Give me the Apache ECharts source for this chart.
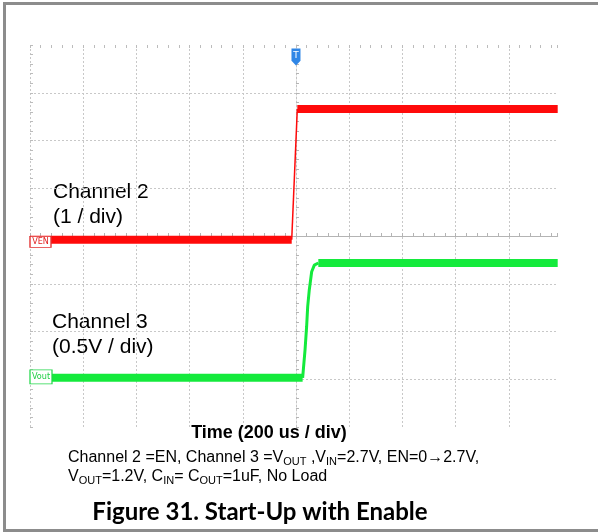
<!DOCTYPE html>
<html>
<head>
<meta charset="utf-8">
<script src="https://cdn.jsdelivr.net/npm/echarts@6/dist/echarts.min.js"></script>
<style>
  html, body { margin: 0; padding: 0; background: #fff; }
  #scope { width: 598px; height: 532px; }
</style>
</head>
<body>
<div id="scope"></div>
<script>
// x in time divisions (200 us / div), 0 = trigger; y in screen divisions
const xMin = -5, xMax = 4.92;
const yMin = -4, yMax = 4;

// Channel 2 (EN), 1 / div
const enLow = [[-5, -0.08], [-0.08, -0.08]];
const enEdge = [[-0.08, -0.08], [0.025, 2.66]];
const enHigh = [[0.025, 2.66], [4.92, 2.66]];

// Channel 3 (Vout), 0.5 V / div
const voutLow = [[-5, -2.97], [0.125, -2.97]];
const voutEdge = [[0.125, -2.97], [0.17, -2.39], [0.2, -1.9], [0.22, -1.48], [0.25, -1.13], [0.295, -0.75], [0.345, -0.61], [0.42, -0.565]];
const voutHigh = [[0.42, -0.565], [4.92, -0.565]];

const red = "#ff0a0a";
const green = "#14ea3c";
const gridGray = "#c8c8c8";

let chartDom = document.getElementById("scope");
let chart = echarts.init(chartDom, null, { renderer: "canvas" });

function trace(data, color, width, extra) {
  return Object.assign({
    type: "line",
    data: data,
    showSymbol: false,
    silent: true,
    lineStyle: { color: color, width: width },
    itemStyle: { color: color },
  }, extra || {});
}

let option = {
  animation: false,
  grid: { left: 30, top: 45, right: 40.3, bottom: 105 },
  xAxis: [
    {
      type: "value",
      min: xMin,
      max: xMax,
      interval: 1,
      axisLine: { show: true, onZero: true, lineStyle: { color: "#b4b4b4", width: 1 } },
      axisTick: { show: true, inside: true, length: 3, lineStyle: { color: "#b4b4b4" } },
      minorTick: { show: true, splitNumber: 5, length: 3, lineStyle: { color: "#b4b4b4" } },
      axisLabel: { show: false },
      splitLine: { show: true, showMaxLine: false, lineStyle: { color: gridGray, type: [2, 2] } },
    },
    {
      type: "value",
      position: "top",
      min: xMin,
      max: xMax,
      interval: 1,
      axisLine: { show: false, onZero: false },
      axisTick: { show: true, inside: true, length: 3, lineStyle: { color: "#bcbcbc" } },
      minorTick: { show: true, splitNumber: 5, length: 3, lineStyle: { color: "#bcbcbc" } },
      axisLabel: { show: false },
      splitLine: { show: false },
    },
  ],
  yAxis: [
    {
      type: "value",
      min: yMin,
      max: yMax,
      interval: 1,
      axisLine: { show: true, onZero: true, lineStyle: { color: "#c4c4c4", width: 1, type: [2, 2] } },
      axisTick: { show: true, inside: true, length: 3, lineStyle: { color: "#b4b4b4" } },
      minorTick: { show: true, splitNumber: 5, length: 3, lineStyle: { color: "#b4b4b4" } },
      axisLabel: { show: false },
      splitLine: { show: true, showMinLine: false, showMaxLine: false, lineStyle: { color: gridGray, type: [2, 2] } },
    },
    {
      type: "value",
      position: "left",
      min: yMin,
      max: yMax,
      interval: 1,
      axisLine: { show: false, onZero: false },
      axisTick: { show: true, inside: true, length: 3, lineStyle: { color: "#bcbcbc" } },
      minorTick: { show: true, splitNumber: 5, length: 3, lineStyle: { color: "#bcbcbc" } },
      axisLabel: { show: false },
      splitLine: { show: false },
    },
  ],
  series: [
    trace(enLow, red, 8, {
      markPoint: {
        silent: true,
        data: [{
          coord: enLow[0],
          symbol: "rect",
          symbolSize: [21, 11],
          symbolOffset: [10.5, 2],
          itemStyle: { color: "#fff", borderColor: "#e23030", borderWidth: 1 },
          label: {
            show: true, position: "inside", formatter: "VEN",
            color: "#e02020", fontSize: 9, fontFamily: "DejaVu Sans Condensed",
          },
        }],
      },
    }),
    trace(enEdge, red, 1.5),
    trace(enHigh, red, 8, {
      markPoint: {
        silent: true,
        data: [{
          coord: [0, yMax],
          symbol: "path://M0,0H10V13L5,18L0,13Z",
          symbolSize: [9, 17],
          symbolKeepAspect: false,
          symbolOffset: [0, 12],
          itemStyle: { color: "#2f86e6" },
          label: {
            show: true, position: "inside", formatter: "T",
            color: "#fff", fontSize: 9, offset: [0, -1], fontFamily: "DejaVu Sans",
          },
        }],
      },
    }),
    trace(voutLow, green, 8, {
      markPoint: {
        silent: true,
        data: [{
          coord: voutLow[0],
          symbol: "rect",
          symbolSize: [22, 14],
          symbolOffset: [11, -1],
          itemStyle: { color: "#fff", borderColor: "#22d84a", borderWidth: 1 },
          label: {
            show: true, position: "inside", formatter: "Vout",
            color: "#1fcf45", fontSize: 9, fontFamily: "DejaVu Sans Condensed",
          },
        }],
      },
    }),
    trace(voutEdge, green, 3),
    trace(voutHigh, green, 8),
  ],
  title: [
    {
      left: 63,
      top: 443,
      text: "Channel 2 =EN, Channel 3 =V{s|OUT} ,V{s|IN}=2.7V, EN=0\u21922.7V,\nV{s|OUT}=1.2V, C{s|IN}= C{s|OUT}=1uF, No Load",
      textStyle: {
        fontFamily: "Liberation Sans",
        fontWeight: "normal",
        fontSize: 16,
        color: "#000",
        lineHeight: 19,
        rich: {
          s: { fontSize: 11, fontFamily: "Liberation Sans", color: "#000", verticalAlign: "bottom", lineHeight: 19, padding: [5, 0, 0, 0] },
        },
      },
    },
  ],
  graphic: [
    {
      type: "rect",
      shape: { x: 4.5, y: 3.5, width: 600, height: 527 },
      style: { fill: "none", stroke: "#8c8c8c", lineWidth: 3 },
      silent: true,
    },
    {
      type: "text", x: 53, y: 204.5,
      style: { text: "Channel 2\n(1 / div)", font: "21px 'Liberation Sans'", fill: "#000", textVerticalAlign: "middle", lineHeight: 25 },
    },
    {
      type: "text", x: 52, y: 335,
      style: { text: "Channel 3\n(0.5V / div)", font: "21px 'Liberation Sans'", fill: "#000", textVerticalAlign: "middle", lineHeight: 25 },
    },
    {
      type: "text", x: 269, y: 433,
      style: { text: "Time (200 us / div)", font: "bold 18px 'Liberation Sans'", fill: "#000", textAlign: "center", textVerticalAlign: "middle" },
    },
    {
      type: "text", x: 260, y: 512,
      style: { text: "Figure 31. Start-Up with Enable", font: "bold 24px Lato", fill: "#000", textAlign: "center", textVerticalAlign: "middle" },
    },
  ],
};

option && chart.setOption(option);
</script>
</body>
</html>
